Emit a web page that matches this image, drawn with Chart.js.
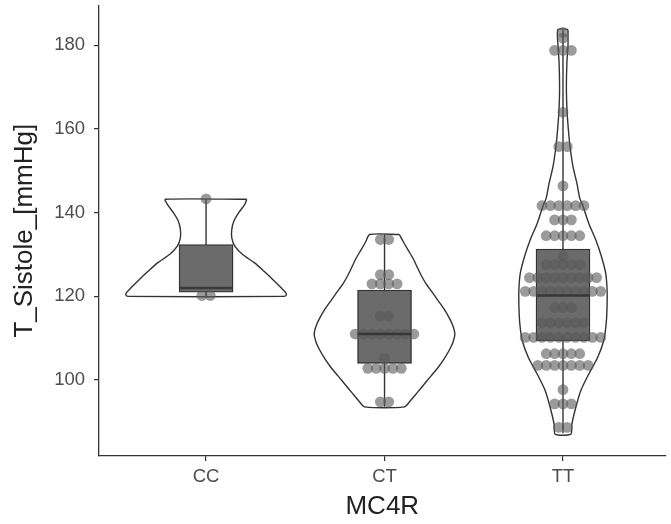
<!DOCTYPE html>
<html>
<head>
<meta charset="utf-8">
<script src="https://cdn.jsdelivr.net/npm/chart.js@4.4.1/dist/chart.umd.min.js"></script>
<style>
  html, body { margin: 0; padding: 0; background: #fff; }
</style>
</head>
<body>
<canvas id="chart" width="671" height="524"></canvas>
<script>
// Groups and axis ticks
const groups = ['CC', 'CT', 'TT'];
const yTicks = [100, 120, 140, 160, 180];

// Box stats per group: min, q1, median, q3, max
const boxCC = [120.0, 121.0, 122.0, 132.4, 143.2];
const boxCT = [93.6, 104.0, 111.0, 121.5, 134.8];
const boxTT = [87.3, 109.4, 120.2, 131.3, 183.6];

// Violin outline: y levels and half widths (x axis units)
const violinYCC = [143.2, 142, 140, 138, 136, 134, 132, 130, 128, 126, 124, 122, 121, 120.4, 120];
const violinWCC = [0.228, 0.217, 0.183, 0.156, 0.144, 0.144, 0.161, 0.205, 0.272, 0.325, 0.375, 0.422, 0.444, 0.45, 0.439];

const violinYCT = [134.8, 133, 131, 129, 127, 125, 123, 121, 119, 117, 115, 113, 111, 109, 107, 105, 103, 101, 99, 97, 95, 93.6];
const violinWCT = [0.083, 0.106, 0.133, 0.161, 0.183, 0.206, 0.233, 0.267, 0.3, 0.333, 0.361, 0.383, 0.394, 0.383, 0.361, 0.333, 0.3, 0.261, 0.222, 0.183, 0.144, 0.111];

const violinYTT = [183.8, 180, 176, 170, 165, 161, 156, 151, 147, 143.5, 141.7, 137.5, 133.6, 129.6, 125.6, 121.7, 117.7, 113.5, 109.4, 105.4, 101.4, 97.5, 93.5, 89.5, 87.1];
const violinWTT = [0.028, 0.028, 0.022, 0.019, 0.022, 0.028, 0.039, 0.056, 0.078, 0.094, 0.111, 0.144, 0.183, 0.215, 0.239, 0.247, 0.247, 0.242, 0.228, 0.194, 0.144, 0.1, 0.072, 0.05, 0.044];

// Dot plot rows: binned value and number of dots in that row
const dotValCC = [143.3, 120.2];
const dotCntCC = [1, 2];

const dotValCT = [133.6, 125.2, 123.0, 115.3, 111.0, 105.2, 102.8, 94.8];
const dotCntCT = [2, 2, 4, 2, 8, 1, 5, 2];

const dotValTT = [183.1, 181.7, 178.8, 164.0, 155.8, 146.4, 141.7, 138.3, 134.5, 129.6, 127.6, 124.5, 121.2, 117.3, 113.7, 110.2, 106.3, 103.5, 97.7, 94.3, 88.7];
const dotCntTT = [1, 1, 3, 1, 2, 1, 6, 3, 5, 1, 5, 9, 10, 3, 6, 10, 5, 7, 1, 3, 2];

const FONT = "'Liberation Sans', Arial, Helvetica, sans-serif";
const LINE = '#333333';
const boxHalf = 0.15;
const dotStep = 0.047;

function violinPath(center, ys, ws) {
    const pts = [];
    for (let i = 0; i < ys.length; i++) pts.push({ x: center + ws[i], y: ys[i] });
    for (let i = ys.length - 1; i >= 0; i--) pts.push({ x: center - ws[i], y: ys[i] });
    pts.push({ x: center + ws[0], y: ys[0] });
    return pts;
}

function dotPoints(center, vals, counts) {
    const pts = [];
    vals.forEach((v, r) => {
        const n = counts[r];
        for (let i = 0; i < n; i++) {
            pts.push({ x: center + (i - (n - 1) / 2) * dotStep, y: v });
        }
    });
    return pts;
}

// drop the half-label padding Chart.js reserves at the axis ends
function noEndPadding(scale) {
    scale.paddingTop = 0;
    scale.paddingBottom = 0;
    scale.paddingLeft = 0;
    scale.paddingRight = 0;
}

const boxes = [boxCC, boxCT, boxTT];
const violins = [[violinYCC, violinWCC], [violinYCT, violinWCT], [violinYTT, violinWTT]];
const dots = [[dotValCC, dotCntCC], [dotValCT, dotCntCT], [dotValTT, dotCntTT]];

const datasets = [];

violins.forEach(([ys, ws], g) => {
    datasets.push({
        type: 'scatter',
        data: violinPath(g + 1, ys, ws),
        showLine: true,
        tension: 0.25,
        borderColor: LINE,
        borderWidth: 1.4,
        pointRadius: 0,
        fill: false,
        order: 6,
    });
});

boxes.forEach((b, g) => {
    datasets.push({
        type: 'scatter',
        data: [{ x: g + 1, y: b[0] }, { x: g + 1, y: b[4] }],
        showLine: true,
        borderColor: LINE,
        borderWidth: 1.4,
        pointRadius: 0,
        order: 5,
    });
});

datasets.push({
    type: 'bar',
    data: boxes.map((b, g) => ({ x: g + 1, y: [b[1], b[3]] })),
    backgroundColor: '#6b6b6b',
    borderColor: LINE,
    borderWidth: 1.4,
    borderSkipped: false,
    barThickness: 54,
    order: 4,
});

datasets.push({
    type: 'scatter',
    data: dots.flatMap(([v, c], g) => dotPoints(g + 1, v, c)),
    pointRadius: 5.4,
    pointBackgroundColor: 'rgba(88,88,88,0.6)',
    pointBorderWidth: 0,
    order: 3,
});

boxes.forEach((b, g) => {
    datasets.push({
        type: 'scatter',
        data: [{ x: g + 1 - boxHalf, y: b[2] }, { x: g + 1 + boxHalf, y: b[2] }],
        showLine: true,
        borderColor: '#383838',
        borderWidth: 2.6,
        pointRadius: 0,
        order: 1,
    });
});

const tickFont = { family: FONT, size: 18.5 };
const titleFont = { family: FONT, size: 26, lineHeight: 1 };

new Chart(document.getElementById('chart'), {
    type: 'scatter',
    data: { datasets },
    options: {
        responsive: false,
        animation: false,
        devicePixelRatio: 1,
        layout: { padding: { top: 5, right: 0, left: 0, bottom: 0 } },
        plugins: {
            legend: { display: false },
            tooltip: { enabled: false },
        },
        scales: {
            x: {
                type: 'linear',
                offset: false,
                min: 0.4,
                max: 3.575,
                afterBuildTicks: (scale) => {
                    scale.ticks = groups.map((_, i) => ({ value: i + 1 }));
                },
                afterFit: (scale) => {
                    scale.height = 68;
                    noEndPadding(scale);
                },
                ticks: {
                    callback: (value) => groups[value - 1],
                    color: '#4d4d4d',
                    font: tickFont,
                    padding: 5,
                    maxRotation: 0,
                },
                grid: {
                    display: true,
                    offset: false,
                    drawOnChartArea: false,
                    drawTicks: true,
                    tickLength: 5,
                    color: LINE,
                    lineWidth: 1.2,
                },
                border: { display: true, color: LINE, width: 1.3 },
                title: {
                    display: true,
                    text: 'MC4R',
                    color: '#222',
                    font: titleFont,
                    padding: { top: 0, bottom: 4 },
                },
            },
            y: {
                type: 'linear',
                min: 81.85,
                max: 189.55,
                afterBuildTicks: (scale) => {
                    scale.ticks = yTicks.map(v => ({ value: v }));
                },
                afterFit: (scale) => {
                    scale.width = 99;
                    noEndPadding(scale);
                },
                ticks: {
                    color: '#4d4d4d',
                    font: tickFont,
                    padding: 9,
                },
                grid: {
                    display: true,
                    drawOnChartArea: false,
                    drawTicks: true,
                    tickLength: 5,
                    color: LINE,
                    lineWidth: 1.2,
                },
                border: { display: true, color: LINE, width: 1.3 },
                title: {
                    display: true,
                    text: 'T_Sistole_[mmHg]',
                    color: '#222',
                    font: titleFont,
                    padding: { top: 12, bottom: 0 },
                },
            },
        },
    },
});
</script>
</body>
</html>
